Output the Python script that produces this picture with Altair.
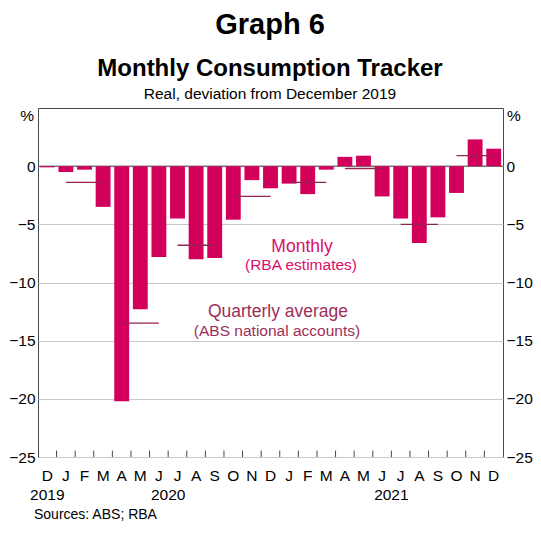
import altair as alt
import pandas as pd

# ---------------- data ----------------
periods = [
    "Dec-2019",
    "Jan-2020", "Feb-2020", "Mar-2020", "Apr-2020", "May-2020", "Jun-2020",
    "Jul-2020", "Aug-2020", "Sep-2020", "Oct-2020", "Nov-2020", "Dec-2020",
    "Jan-2021", "Feb-2021", "Mar-2021", "Apr-2021", "May-2021", "Jun-2021",
    "Jul-2021", "Aug-2021", "Sep-2021", "Oct-2021", "Nov-2021", "Dec-2021",
]
monthly = [
    -0.1,
    -0.5, -0.3, -3.5, -20.2, -12.3, -7.8,
    -4.5, -8.0, -7.9, -4.6, -1.2, -1.9,
    -1.5, -2.4, -0.3, 0.8, 0.9, -2.6,
    -4.5, -6.6, -4.4, -2.3, 2.3, 1.5,
]
q_start = ["Jan-2020", "Apr-2020", "Jul-2020", "Oct-2020",
           "Jan-2021", "Apr-2021", "Jul-2021", "Oct-2021"]
q_end = ["Mar-2020", "Jun-2020", "Sep-2020", "Dec-2020",
         "Mar-2021", "Jun-2021", "Sep-2021", "Dec-2021"]
q_values = [-1.4, -13.5, -6.8, -2.6, -1.4, -0.2, -5.0, 0.9]

y_ticks = [-25, -20, -15, -10, -5, 0]
years_first = ["2019"]
years_first_anchor = ["Dec-2019"]
years_mid = ["2020", "2021"]
years_mid_anchor = ["Jul-2020", "Jul-2021"]

title_main = "Graph 6"
title_sub = "Monthly Consumption Tracker"
title_note = "Real, deviation from December 2019"
label_monthly = ["Monthly", "(RBA estimates)"]
label_quarterly = ["Quarterly average", "(ABS national accounts)"]
source_text = "Sources: ABS; RBA"
unit = "%"

# ---------------- styling ----------------
FONT = "Liberation Sans"
BAR = "#D2005A"
QLINE = "#93244F"
MONTHLY_TXT = "#DC0D6A"
QUARTER_TXT = "#9C2F58"
FRAME = "#4A4A4A"
GRID = "#C8C8C8"
W, H = 465, 349
LBL = 15.5
GAP = -1.9  # half the gap between bars, in px

xscale = alt.Scale(domain=periods, paddingInner=0.2, paddingOuter=0.1)
yscale = alt.Scale(domain=[-25, 5], nice=False, zero=False)

bars_df = pd.DataFrame({"period": periods, "value": monthly})
q_df = pd.DataFrame({"start": q_start, "end": q_end, "value": q_values})
ticks_df = pd.DataFrame({"period": periods[1:]})
zero_df = pd.DataFrame({"v": [0]})

zero_line = alt.Chart(zero_df).mark_rule(color=FRAME, strokeWidth=1).encode(
    y=alt.Y("v:Q", scale=yscale, axis=None)
)

bars = alt.Chart(bars_df).mark_bar(color=BAR).encode(
    x=alt.X(
        "period:N", sort=periods, scale=xscale, title=None,
        axis=alt.Axis(
            labelExpr="substring(datum.value, 0, 1)", labelAngle=0,
            labelFontSize=LBL, labelColor="#000", labelBaseline="alphabetic",
            labelPadding=23, ticks=False, tickSize=0, domain=False, grid=False,
        ),
    ),
    y=alt.Y(
        "value:Q", scale=yscale, title=None,
        axis=alt.Axis(
            orient="left", values=y_ticks, labelFontSize=LBL, labelColor="#000",
            labelPadding=3, ticks=False, tickSize=0, domain=False,
            grid=True, gridColor=GRID, gridWidth=1,
        ),
    ),
)

qlines = alt.Chart(q_df).mark_rule(color=QLINE, strokeWidth=1.3).encode(
    x=alt.X("start:N", scale=xscale, bandPosition=0.5, axis=None),
    x2=alt.X2("end:N", bandPosition=0.5),
    y=alt.Y(
        "value:Q", scale=yscale, title=None,
        axis=alt.Axis(
            orient="right", values=y_ticks, labelFontSize=LBL, labelColor="#000",
            labelPadding=3, ticks=False, tickSize=0, domain=False, grid=False,
        ),
    ),
)

xticks = alt.Chart(ticks_df).mark_rule(color=FRAME, strokeWidth=1, xOffset=GAP).encode(
    x=alt.X("period:N", scale=xscale, bandPosition=0, axis=None),
    y=alt.value(H),
    y2=alt.value(H - 6.5),
)

year1 = alt.Chart(pd.DataFrame({"p": years_first_anchor, "t": years_first})).mark_text(
    fontSize=LBL, baseline="alphabetic", align="center", color="#000"
).encode(
    x=alt.X("p:N", scale=xscale, bandPosition=0.5, axis=None),
    y=alt.value(H + 43), text="t:N",
)
year2 = alt.Chart(pd.DataFrame({"p": years_mid_anchor, "t": years_mid})).mark_text(
    fontSize=LBL, baseline="alphabetic", align="center", color="#000", dx=GAP
).encode(
    x=alt.X("p:N", scale=xscale, bandPosition=0, axis=None),
    y=alt.value(H + 43), text="t:N",
)


def txt(s, x, y, size, color="#000", bold=False, align="center"):
    return alt.Chart(pd.DataFrame({"t": [s]})).mark_text(
        fontSize=size, color=color, align=align, baseline="alphabetic",
        fontWeight="bold" if bold else "normal",
    ).encode(text="t:N", x=alt.value(x), y=alt.value(y))


texts = [
    txt(title_main, 232, -74, 29, bold=True),
    txt(title_sub, 232, -32, 24, bold=True),
    txt(title_note, 232, -9, 15.5),
    txt(unit, -4, 13, LBL, align="right"),
    txt(unit, W + 4, 13, LBL, align="left"),
    txt(label_monthly[0], 264, 144, 17.5, color=MONTHLY_TXT),
    txt(label_monthly[1], 263, 162, 15.5, color=MONTHLY_TXT),
    txt(label_quarterly[0], 240, 209, 17.5, color=QUARTER_TXT),
    txt(label_quarterly[1], 239, 228, 15.5, color=QUARTER_TXT),
    txt(source_text, -4, 411, 14, align="left"),
]

chart = alt.layer(
    zero_line, bars, qlines, xticks, year1, year2, *texts
).resolve_axis(x="independent", y="independent").properties(
    width=W, height=H,
    autosize="none",
    padding={"left": 30, "top": 100, "right": 30, "bottom": 66},
).configure(font=FONT).configure_view(stroke=FRAME, strokeWidth=1)

chart.save("out.html", embed_options={"renderer": "svg", "actions": False})
